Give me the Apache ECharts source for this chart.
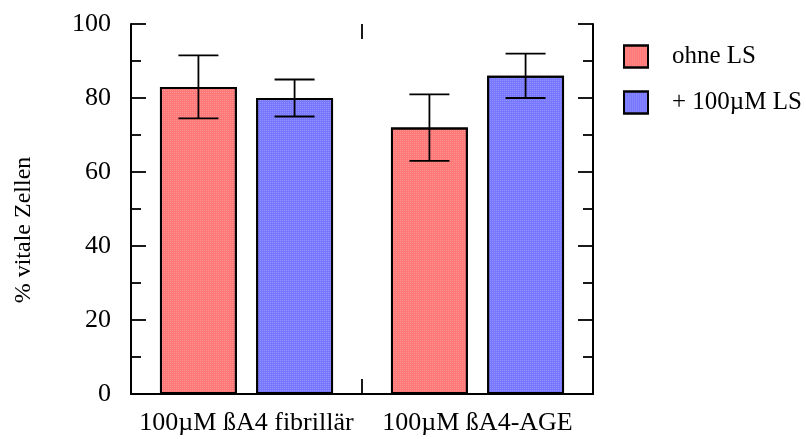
<!DOCTYPE html>
<html>
<head>
<meta charset="utf-8">
<script src="https://cdn.jsdelivr.net/npm/echarts@6/dist/echarts.min.js"></script>
<style>
  html, body { margin: 0; padding: 0; background: #fff; }
  #chart { width: 806px; height: 439px; }
</style>
</head>
<body>
<div id="chart"></div>
<script>
// Cell viability, with and without LS
const categories = ['100µM ßA4 fibrillär', '100µM ßA4-AGE'];
const seriesNames = ['ohne LS', '+ 100µM LS'];
const ohneLS = [83, 72];
const ohneLSErr = [8.5, 9];
const mitLS = [80, 86];
const mitLSErr = [5, 6];
const yTicks = { min: 0, max: 100, step: 20 };
const yMajorTicks = [0, 20, 40, 60, 80, 100];
const yMinorTicks = [10, 30, 50, 70, 90];
const yTitle = '% vitale Zellen';

const FONT = 'Liberation Serif';
const RED = '#ff7878';
const BLUE = '#7878ff';
const BAR_W = 0.333;   // bar width as a share of the category band
const BAR_GAP = 0.25;  // gap between bars as a share of bar width

function dotted(color) {
  return {
    color: color,
    borderColor: '#000',
    borderWidth: 2,
    decal: {
      symbol: 'rect',
      symbolSize: 1,
      dashArrayX: [1, 1],
      dashArrayY: [1, 1],
      color: 'rgba(255,255,255,0.2)'
    }
  };
}

// error bars drawn on top of the bars; side = -1 (left bar) or +1 (right bar)
function errorSeries(values, errs, side) {
  return {
    type: 'custom',
    z: 10,
    silent: true,
    encode: { x: 0, y: 1 },
    data: values.map((v, i) => [i, v, errs[i]]),
    renderItem: function (params, api) {
      const c = api.value(0), v = api.value(1), e = api.value(2);
      const mid = api.coord([c, v]);
      const band = api.size([1, 0])[0];
      const bw = band * BAR_W;
      const x = mid[0] + side * (bw + bw * BAR_GAP) / 2;
      const yTop = api.coord([c, v + e])[1];
      const yBot = api.coord([c, v - e])[1];
      const half = bw * 0.26;
      const st = { stroke: '#000', lineWidth: 1.8 };
      return {
        type: 'group',
        children: [
          { type: 'line', shape: { x1: x, y1: yTop, x2: x, y2: yBot }, style: st },
          { type: 'line', shape: { x1: x - half, y1: yTop, x2: x + half, y2: yTop }, style: st },
          { type: 'line', shape: { x1: x - half, y1: yBot, x2: x + half, y2: yBot }, style: st }
        ]
      };
    }
  };
}

// inward-pointing ticks on all four sides of the frame
const tickSeries = {
  type: 'custom',
  z: 12,
  silent: true,
  encode: { x: 0, y: 1 },
  data: [[0, 0]],
  renderItem: function (params, api) {
    const cs = params.coordSys;
    const left = cs.x, right = cs.x + cs.width;
    const top = cs.y, bottom = cs.y + cs.height;
    const st = { stroke: '#000', lineWidth: 1.8 };
    const kids = [];
    const hTick = (y, len) => {
      kids.push({ type: 'line', shape: { x1: left, y1: y, x2: left + len, y2: y }, style: st });
      kids.push({ type: 'line', shape: { x1: right, y1: y, x2: right - len, y2: y }, style: st });
    };
    yMajorTicks.forEach(v => hTick(api.coord([0, v])[1], 15));
    yMinorTicks.forEach(v => hTick(api.coord([0, v])[1], 10));
    // category boundaries between neighbouring groups
    for (let i = 0; i < categories.length - 1; i++) {
      const x = (api.coord([i, 0])[0] + api.coord([i + 1, 0])[0]) / 2;
      kids.push({ type: 'line', shape: { x1: x, y1: bottom, x2: x, y2: bottom - 15 }, style: st });
      kids.push({ type: 'line', shape: { x1: x, y1: top, x2: x, y2: top + 15 }, style: st });
    }
    return { type: 'group', children: kids };
  }
};

const axisLine = { show: true, lineStyle: { color: '#000', width: 2 } };

const chart = echarts.init(document.getElementById('chart'), null, { renderer: 'canvas' });
chart.setOption({
  animation: false,
  backgroundColor: '#fff',
  textStyle: { fontFamily: FONT, color: '#000' },
  grid: { left: 131, right: 213, top: 24, bottom: 45 },
  legend: {
    data: seriesNames,
    orient: 'vertical',
    left: 623,
    top: 44,
    padding: 0,
    icon: 'rect',
    itemWidth: 24,
    itemHeight: 22,
    itemGap: 21,
    textStyle: { fontFamily: FONT, fontSize: 25, color: '#000', padding: [0, 0, 0, 19] },
    selectedMode: false
  },
  xAxis: [
    {
      type: 'category',
      data: categories,
      position: 'bottom',
      axisLine: axisLine,
      axisTick: { show: false },
      axisLabel: { fontFamily: FONT, fontSize: 26, color: '#000', margin: 16, interval: 0, hideOverlap: false },
      splitLine: { show: false }
    },
    {
      type: 'category',
      data: categories,
      position: 'top',
      axisLine: axisLine,
      axisTick: { show: false },
      axisLabel: { show: false },
      splitLine: { show: false }
    }
  ],
  yAxis: [
    {
      type: 'value',
      min: yTicks.min,
      max: yTicks.max,
      interval: yTicks.step,
      position: 'left',
      name: yTitle,
      nameLocation: 'middle',
      nameGap: 95,
      nameTextStyle: { fontFamily: FONT, fontSize: 24, color: '#000', padding: [0, 0, 0, -42] },
      axisLine: axisLine,
      axisTick: { show: false },
      axisLabel: { fontFamily: FONT, fontSize: 26, color: '#000', margin: 20 },
      splitLine: { show: false }
    },
    {
      type: 'value',
      min: yTicks.min,
      max: yTicks.max,
      interval: yTicks.step,
      position: 'right',
      axisLine: axisLine,
      axisTick: { show: false },
      axisLabel: { show: false },
      splitLine: { show: false }
    }
  ],
  series: [
    {
      name: seriesNames[0],
      type: 'bar',
      data: ohneLS,
      barWidth: (BAR_W * 100) + '%',
      barGap: (BAR_GAP * 100) + '%',
      itemStyle: dotted(RED)
    },
    {
      name: seriesNames[1],
      type: 'bar',
      data: mitLS,
      barWidth: (BAR_W * 100) + '%',
      barGap: (BAR_GAP * 100) + '%',
      itemStyle: dotted(BLUE)
    },
    errorSeries(ohneLS, ohneLSErr, -1),
    errorSeries(mitLS, mitLSErr, 1),
    tickSeries
  ]
});
</script>
</body>
</html>
